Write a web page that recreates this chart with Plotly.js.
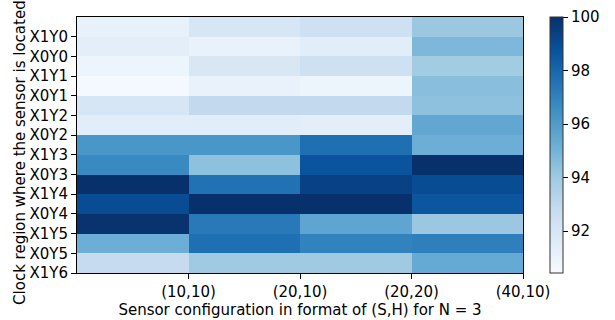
<!DOCTYPE html>
<html>
<head>
<meta charset="utf-8">
<script src="https://cdn.plot.ly/plotly-3.0.1.min.js"></script>
<style>html,body{margin:0;padding:0;background:#fff;}#chart{width:615px;height:320px;}</style>
</head>
<body>
<div id="chart"></div>
<script>
// Sensor configurations (columns) and clock regions (rows)
const configs = ["(10,10)", "(20,10)", "(20,20)", "(40,10)"];
const regions = ["X1Y0", "X0Y0", "X1Y1", "X0Y1", "X1Y2", "X0Y2", "X1Y3", "X0Y3", "X1Y4", "X0Y4", "X1Y5", "X0Y5", "X1Y6"];

// Accuracy (%) per configuration, one value per clock region (top to bottom)
const acc_10_10 = [91.2, 91.4, 90.9, 90.6, 92.0, 91.5, 96.2, 96.7, 100.0, 99.0, 99.9, 95.2, 92.8];
const acc_20_10 = [92.0, 91.1, 91.9, 91.1, 92.9, 91.5, 96.2, 94.4, 97.6, 100.0, 97.3, 97.7, 94.0];
const acc_20_20 = [92.4, 91.5, 92.4, 90.9, 92.9, 91.4, 97.7, 98.7, 99.4, 100.0, 95.6, 97.0, 94.0];
const acc_40_10 = [94.1, 94.8, 93.9, 94.5, 94.4, 95.5, 95.2, 100.0, 99.0, 98.6, 94.1, 97.1, 95.4];

const columns = [acc_10_10, acc_20_10, acc_20_20, acc_40_10];
const z = regions.map((r, i) => columns.map(c => c[i]));

const xEdges = Array.from({length: configs.length + 1}, (_, i) => i);
const yEdges = Array.from({length: regions.length + 1}, (_, i) => i);

const blues = [
  [0.0, "#f7fbff"], [0.125, "#deebf7"], [0.25, "#c6dbef"], [0.375, "#9ecae1"],
  [0.5, "#6baed6"], [0.625, "#4292c6"], [0.75, "#2171b5"], [0.875, "#08519c"], [1.0, "#08306b"]
];

const font = {family: "DejaVu Sans", size: 15, color: "#000"};

const trace = {
  type: "heatmap",
  x: xEdges,
  y: yEdges,
  z: z,
  zmin: 90.43,
  zmax: 100,
  colorscale: blues,
  xgap: 0, ygap: 0,
  colorbar: {
    x: 1.0605, xanchor: "left",
    y: 0.5, yanchor: "middle",
    len: 1, lenmode: "fraction",
    thickness: 13,
    outlinewidth: 1, outlinecolor: "#333",
    ticks: "outside", ticklen: 5, tickwidth: 1, tickcolor: "#000",
    tickvals: [92, 94, 96, 98, 100],
    tickfont: font,
    xpad: 0, ypad: 0
  }
};

const layout = {
  width: 615, height: 320,
  margin: {l: 77, r: 92, t: 17, b: 47},
  paper_bgcolor: "#fff", plot_bgcolor: "#fff",
  font: font,
  xaxis: {
    range: [0, 4],
    tickvals: xEdges.slice(1),
    ticktext: configs,
    ticks: "outside", ticklen: 5, tickwidth: 1, tickcolor: "#000",
    showline: true, mirror: true, linecolor: "#000", linewidth: 1,
    showgrid: false, zeroline: false,
    tickfont: font,
    title: {text: "Sensor configuration in format of (S,H) for N = 3", font: font, standoff: 3}
  },
  yaxis: {
    range: [13, 0],
    tickvals: yEdges.slice(1),
    ticktext: regions,
    ticks: "outside", ticklen: 5, tickwidth: 1, tickcolor: "#000",
    showline: true, mirror: true, linecolor: "#000", linewidth: 1,
    showgrid: false, zeroline: false,
    tickfont: font
  },
  annotations: [{
    text: "Clock region where the sensor is located",
    xref: "paper", yref: "paper",
    x: -0.1278, y: 0.469,
    xanchor: "center", yanchor: "middle",
    textangle: -90, showarrow: false,
    font: font
  }]
};

Plotly.newPlot("chart", [trace], layout, {displayModeBar: false, staticPlot: true});
</script>
</body>
</html>
